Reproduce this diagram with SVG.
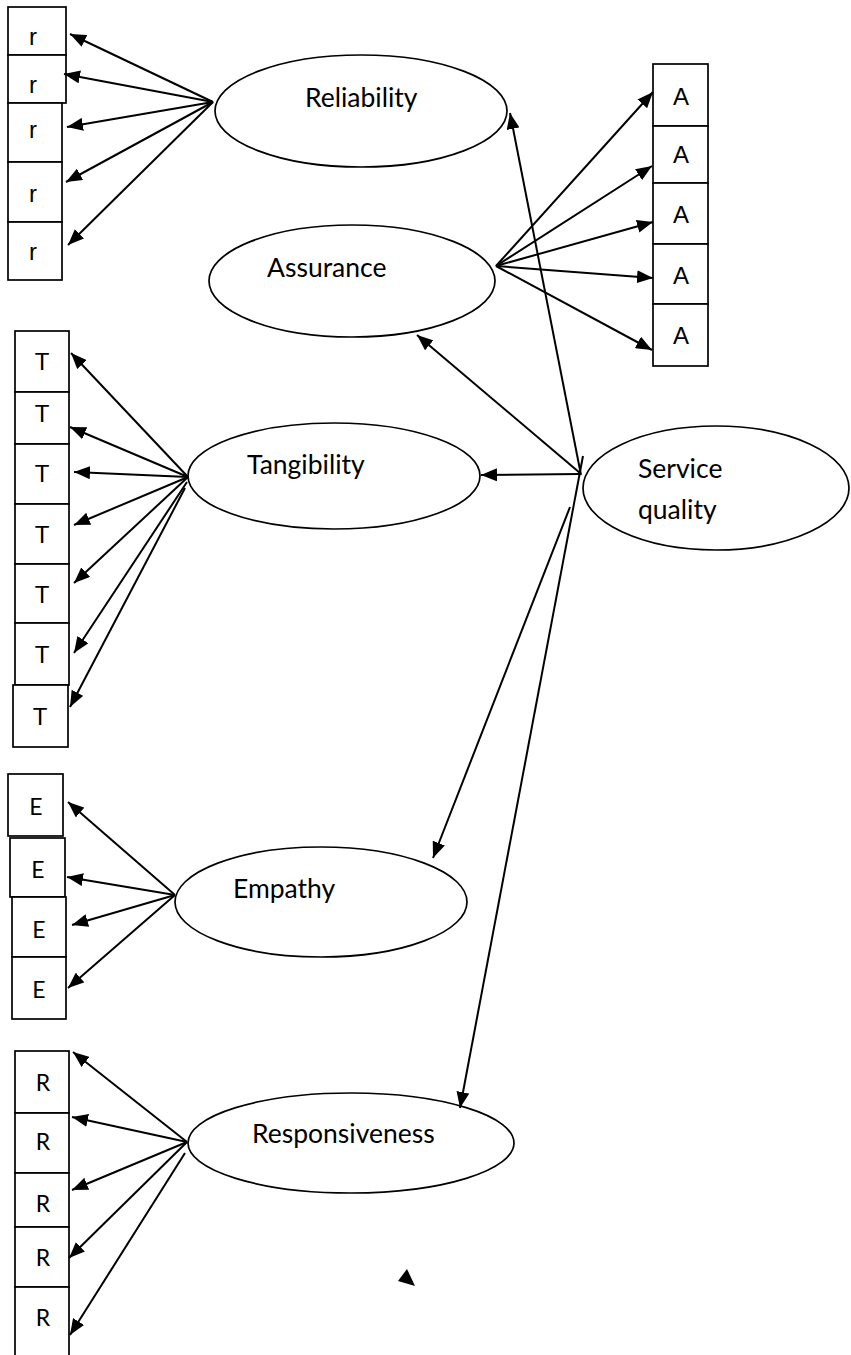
<svg xmlns="http://www.w3.org/2000/svg" width="851" height="1355" viewBox="0 0 851 1355">
<style>
.box{fill:#fff;stroke:#000;stroke-width:1.7}
.ell{fill:#fff;stroke:#000;stroke-width:1.7}
.bl{font-family:"Liberation Sans",Arial,sans-serif;font-size:24px;text-anchor:middle;fill:#000}
.bc{font-family:Lato,"Open Sans",sans-serif;font-size:23px;text-anchor:middle;fill:#000}
.el{font-family:Lato,"Open Sans",sans-serif;font-size:26.5px;fill:#000}
.c line{stroke:#000;stroke-width:2;marker-end:url(#ah)}
</style>
<defs>
<marker id="ah" markerUnits="userSpaceOnUse" markerWidth="17" markerHeight="13" refX="16" refY="6.5" orient="auto">
<path d="M0,0 L16,6.5 L0,13 z" fill="#000"/>
</marker>
</defs>
<rect width="851" height="1355" fill="#fff"/>

<g id="reliability-items">
<rect class="box" x="8" y="7" width="58" height="48"/><text class="bl" x="33" y="45">r</text>
<rect class="box" x="8" y="55" width="58" height="48"/><text class="bl" x="33" y="93">r</text>
<rect class="box" x="8" y="103" width="54" height="59"/><text class="bl" x="33" y="138">r</text>
<rect class="box" x="8" y="162" width="54" height="60"/><text class="bl" x="33" y="202">r</text>
<rect class="box" x="8" y="222" width="54" height="58"/><text class="bl" x="33" y="260">r</text>
</g>
<g id="assurance-items">
<rect class="box" x="653" y="64" width="55" height="62"/><text class="bl" x="681" y="105">A</text>
<rect class="box" x="653" y="126" width="55" height="57"/><text class="bl" x="681" y="163">A</text>
<rect class="box" x="653" y="183" width="55" height="61"/><text class="bl" x="681" y="223">A</text>
<rect class="box" x="653" y="244" width="55" height="60"/><text class="bl" x="681" y="284">A</text>
<rect class="box" x="653" y="304" width="55" height="62"/><text class="bl" x="681" y="344">A</text>
</g>
<g id="tangibility-items">
<rect class="box" x="15" y="331" width="54" height="61"/><text class="bl" x="42" y="370">T</text>
<rect class="box" x="15" y="392" width="54" height="52"/><text class="bl" x="42" y="422">T</text>
<rect class="box" x="15" y="444" width="54" height="60"/><text class="bl" x="42" y="482">T</text>
<rect class="box" x="15" y="504" width="54" height="60"/><text class="bl" x="42" y="543">T</text>
<rect class="box" x="15" y="564" width="54" height="59"/><text class="bl" x="42" y="603">T</text>
<rect class="box" x="15" y="623" width="54" height="62"/><text class="bl" x="42" y="663">T</text>
<rect class="box" x="13" y="685" width="55" height="62"/><text class="bl" x="40" y="725">T</text>
</g>
<g id="empathy-items">
<rect class="box" x="8" y="774" width="55" height="62"/><text class="bc" x="36" y="815">E</text>
<rect class="box" x="10" y="838" width="55" height="59"/><text class="bc" x="38" y="878">E</text>
<rect class="box" x="12" y="897" width="54" height="60"/><text class="bc" x="39" y="938">E</text>
<rect class="box" x="12" y="957" width="54" height="62"/><text class="bc" x="39" y="998">E</text>
</g>
<g id="responsiveness-items">
<rect class="box" x="15" y="1051" width="54" height="62"/><text class="bc" x="43" y="1091">R</text>
<rect class="box" x="15" y="1113" width="54" height="60"/><text class="bc" x="43" y="1150">R</text>
<rect class="box" x="15" y="1173" width="54" height="54"/><text class="bc" x="43" y="1212">R</text>
<rect class="box" x="15" y="1227" width="54" height="60"/><text class="bc" x="43" y="1266">R</text>
<rect class="box" x="15" y="1287" width="54" height="90"/><text class="bc" x="43" y="1326">R</text>
</g>

<g id="reliability"><ellipse class="ell" cx="361" cy="111" rx="146" ry="56"/><text class="el" x="305" y="107">Reliability</text></g>
<g id="assurance"><ellipse class="ell" cx="352" cy="281" rx="143" ry="56"/><text class="el" x="267" y="277">Assurance</text></g>
<g id="tangibility"><ellipse class="ell" cx="334" cy="476" rx="146" ry="53"/><text class="el" x="247" y="474">Tangibility</text></g>
<g id="service-quality"><ellipse class="ell" cx="716" cy="488" rx="133" ry="62"/><text class="el" x="638" y="478">Service</text><text class="el" x="638" y="519">quality</text></g>
<g id="empathy"><ellipse class="ell" cx="321" cy="902" rx="146" ry="55"/><text class="el" x="233" y="898">Empathy</text></g>
<g id="responsiveness"><ellipse class="ell" cx="351" cy="1143" rx="163" ry="50"/><text class="el" x="252" y="1143">Responsiveness</text></g>

<g id="connectors" class="c">
<line x1="213" y1="102" x2="70" y2="34"/>
<line x1="213" y1="102" x2="64" y2="74"/>
<line x1="213" y1="102" x2="67" y2="127"/>
<line x1="213" y1="102" x2="66" y2="182"/>
<line x1="213" y1="102" x2="68" y2="245"/>
<line x1="496" y1="266" x2="653" y2="92"/>
<line x1="496" y1="266" x2="652" y2="166"/>
<line x1="496" y1="266" x2="653" y2="222"/>
<line x1="496" y1="266" x2="653" y2="278"/>
<line x1="496" y1="266" x2="652" y2="350"/>
<line x1="581" y1="475" x2="510" y2="113"/>
<line x1="580" y1="473" x2="417" y2="335"/>
<line x1="580" y1="474" x2="481" y2="475"/>
<line x1="570" y1="507" x2="433" y2="858"/>
<line x1="583" y1="456" x2="460" y2="1108"/>
<line x1="188" y1="477" x2="71" y2="353"/>
<line x1="188" y1="477" x2="70" y2="427"/>
<line x1="188" y1="477" x2="74" y2="472"/>
<line x1="188" y1="477" x2="74" y2="525"/>
<line x1="188" y1="477" x2="74" y2="583"/>
<line x1="187" y1="482" x2="74" y2="653"/>
<line x1="185" y1="488" x2="70" y2="707"/>
<line x1="175" y1="895" x2="68" y2="802"/>
<line x1="175" y1="895" x2="67" y2="877"/>
<line x1="175" y1="895" x2="72" y2="925"/>
<line x1="175" y1="895" x2="68" y2="988"/>
<line x1="187" y1="1142" x2="73" y2="1052"/>
<line x1="187" y1="1142" x2="72" y2="1117"/>
<line x1="187" y1="1142" x2="72" y2="1190"/>
<line x1="187" y1="1142" x2="69" y2="1258"/>
<line x1="185" y1="1153" x2="70" y2="1335"/>
</g>
<polygon points="407,1269 398,1281 415,1286" fill="#000"/>
</svg>
